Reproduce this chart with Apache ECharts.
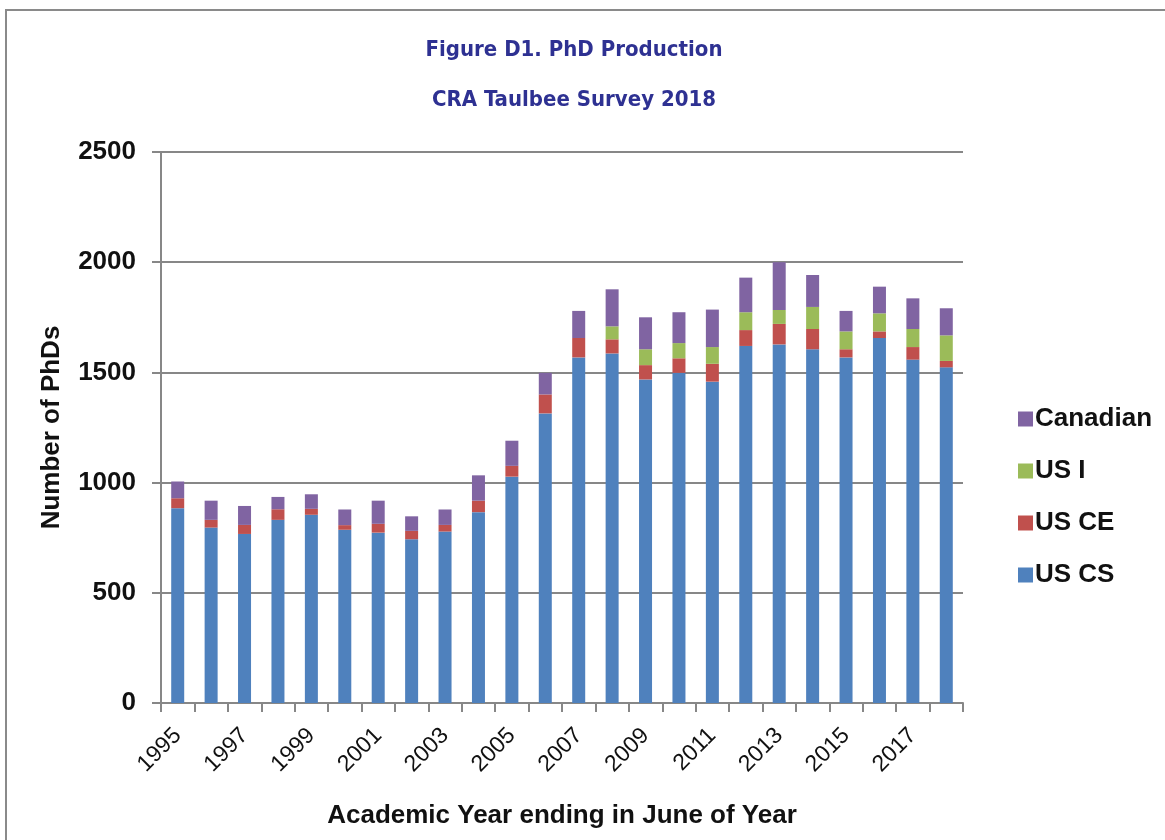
<!DOCTYPE html>
<html>
<head>
<meta charset="utf-8">
<title>PhD Production</title>
<script src="https://cdn.jsdelivr.net/npm/echarts@6/dist/echarts.min.js"></script>
<style>
  html, body { margin: 0; padding: 0; background: #fff; }
  #chartDiv { width: 1165px; height: 840px; }
</style>
</head>
<body>
<div id="chartDiv"></div>
<script>
// 横轴：学年
const years = ['1995', '1996', '1997', '1998', '1999', '2000', '2001', '2002', '2003', '2004',
  '2005', '2006', '2007', '2008', '2009', '2010', '2011', '2012', '2013', '2014',
  '2015', '2016', '2017', '2018']
// 各系列
const usCS = [884, 796, 767, 831, 854, 786, 773, 743, 778, 866,
  1027, 1314, 1568, 1586, 1468, 1498, 1458, 1620, 1627, 1605,
  1568, 1656, 1558, 1523]
const usCE = [45, 35, 41, 48, 27, 21, 40, 38, 30, 52,
  49, 86, 88, 64, 65, 66, 81, 72, 93, 92,
  37, 30, 57, 29]
const usI = [0, 0, 0, 0, 0, 0, 0, 0, 0, 0,
  0, 0, 0, 59, 72, 69, 76, 81, 63, 100,
  81, 82, 82, 116]
const canadian = [76, 87, 86, 56, 66, 71, 105, 66, 70, 115,
  114, 98, 123, 168, 145, 140, 170, 157, 217, 145,
  93, 121, 139, 123]
// y 轴刻度
const yTicks = [0, 500, 1000, 1500, 2000, 2500]

const gridColor = '#878787'
const textFont = "'Liberation Sans', Arial, sans-serif"
const titleFont = "'DejaVu Sans Condensed', 'Roboto', sans-serif"

const barSeries = (name, data, color) => ({
  name: name,
  type: 'bar',
  stack: 'phd',
  barWidth: 13,
  itemStyle: { color: color },
  data: data
})

const option = {
  animation: false,
  backgroundColor: '#fff',
  title: [
    {
      text: 'Figure D1. PhD Production',
      left: 569,
      top: 34,
      textAlign: 'center',
      textStyle: { color: '#2e3192', fontFamily: titleFont, fontWeight: 'bold', fontSize: 22 }
    },
    {
      text: 'CRA Taulbee Survey 2018',
      left: 569,
      top: 84,
      textAlign: 'center',
      textStyle: { color: '#2e3192', fontFamily: titleFont, fontWeight: 'bold', fontSize: 22 }
    }
  ],
  graphic: [
    {
      // 外框（只露出上边和左边）
      type: 'rect',
      shape: { x: 6, y: 10, width: 1300, height: 1000 },
      style: { fill: null, stroke: '#8a8a8a', lineWidth: 2 },
      silent: true
    }
  ],
  legend: {
    orient: 'vertical',
    left: 1013,
    top: 401,
    itemWidth: 15,
    itemHeight: 15,
    itemGap: 26,
    icon: 'rect',
    data: ['Canadian', 'US I', 'US CE', 'US CS'],
    textStyle: { fontFamily: textFont, fontSize: 26, fontWeight: 'bold', color: '#111', padding: [0, 0, 0, -3] }
  },
  grid: {
    left: 161,
    right: 1165 - 963,
    top: 152,
    bottom: 840 - 703
  },
  xAxis: {
    type: 'category',
    data: years,
    name: 'Academic Year ending in June of Year',
    nameLocation: 'middle',
    nameGap: 100,
    nameTextStyle: { fontFamily: textFont, fontSize: 26, fontWeight: 'bold', color: '#111' },
    axisLine: { lineStyle: { color: gridColor, width: 2 } },
    axisTick: { show: true, alignWithLabel: false, interval: 0, length: 9, lineStyle: { color: gridColor, width: 2 } },
    axisLabel: {
      interval: 1,
      rotate: 45,
      margin: 29,
      fontFamily: textFont,
      fontSize: 23,
      color: '#111'
    }
  },
  yAxis: {
    type: 'value',
    min: yTicks[0],
    max: yTicks[yTicks.length - 1],
    interval: 500,
    name: 'Number of PhDs',
    nameLocation: 'middle',
    nameGap: 96,
    nameTextStyle: { fontFamily: textFont, fontSize: 26, fontWeight: 'bold', color: '#111' },
    axisLine: { show: true, lineStyle: { color: gridColor, width: 2 } },
    axisTick: { show: true, length: 9, lineStyle: { color: gridColor, width: 2 } },
    splitLine: { lineStyle: { color: gridColor, width: 2 } },
    axisLabel: {
      margin: 25,
      fontFamily: textFont,
      fontSize: 26,
      fontWeight: 'bold',
      color: '#111',
      formatter: (v) => String(v)
    }
  },
  series: [
    barSeries('US CS', usCS, '#4f81bd'),
    barSeries('US CE', usCE, '#c0504d'),
    barSeries('US I', usI, '#9bbb59'),
    barSeries('Canadian', canadian, '#8064a2')
  ]
}

const chart = echarts.init(document.getElementById('chartDiv'))
chart.setOption(option)
</script>
</body>
</html>
